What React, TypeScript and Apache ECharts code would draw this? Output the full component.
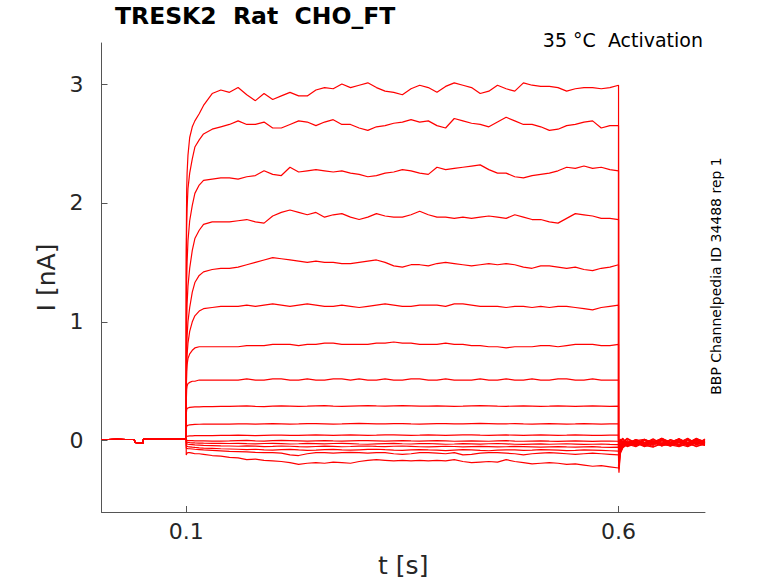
import React, { useEffect, useRef } from "react";
import * as echarts from "echarts";

// ---- holding period (shared by all sweeps) ----
const PRE_T = [0.002, 0.01, 0.02, 0.03, 0.04, 0.0405, 0.05, 0.0505, 0.06, 0.07, 0.08, 0.09, 0.1];
const PRE_I = [0.01, 0.01, 0.012, 0.01, 0.01, -0.015, -0.02, 0.012, 0.015, 0.014, 0.015, 0.016, 0.015];

// ---- test pulse time points (s) ----
const STEP_T = [
  0.1, 0.1005, 0.101, 0.102, 0.104, 0.107, 0.11, 0.115, 0.12, 0.13, 0.14,
  0.15, 0.16, 0.17, 0.18, 0.19, 0.2, 0.21, 0.22, 0.23, 0.24,
  0.25, 0.26, 0.27, 0.28, 0.29, 0.3, 0.31, 0.32, 0.33, 0.34,
  0.35, 0.36, 0.37, 0.38, 0.39, 0.4, 0.41, 0.42, 0.43, 0.44,
  0.45, 0.46, 0.47, 0.48, 0.49, 0.5, 0.51, 0.52, 0.53, 0.54,
  0.55, 0.56, 0.57, 0.58, 0.59, 0.6,
];

// ---- tail after the pulse (s) ----
const TAIL_T = [0.6, 0.6005, 0.602, 0.605, 0.61, 0.62, 0.63, 0.64, 0.65, 0.66, 0.67, 0.68, 0.69, 0.7];

// ---- sweep currents during the pulse (nA) ----
const sweep01 = [
  1.6, 2.1, 2.25, 2.4, 2.55, 2.64, 2.69, 2.75, 2.82, 2.92, 2.95,
  2.93, 2.97, 2.91, 2.86, 2.92, 2.87, 2.9, 2.93, 2.9, 2.9,
  2.95, 2.97, 2.96, 3.0, 2.97, 2.99, 3.01, 2.97, 2.94, 2.93,
  2.91, 2.96, 2.99, 2.97, 2.93, 2.98, 3.01, 2.99, 2.97, 2.92,
  2.94, 2.99, 2.96, 2.94, 3.01, 2.99, 2.98, 2.98, 2.97, 2.94,
  2.96, 2.97, 2.97, 2.96, 2.97, 2.99,
];
const sweep02 = [
  1.4, 1.8, 1.95, 2.12, 2.25, 2.37, 2.47, 2.53, 2.58, 2.62, 2.64,
  2.66, 2.69, 2.66, 2.66, 2.68, 2.63, 2.63, 2.66, 2.69, 2.68,
  2.65, 2.68, 2.7, 2.66, 2.66, 2.63, 2.61, 2.64, 2.65, 2.67,
  2.68, 2.7, 2.68, 2.69, 2.65, 2.63, 2.71, 2.69, 2.67, 2.66,
  2.64, 2.68, 2.72, 2.69, 2.66, 2.66, 2.64, 2.61, 2.62, 2.65,
  2.66, 2.68, 2.69, 2.63, 2.65, 2.65,
];
const sweep03 = [
  1.0, 1.35, 1.5, 1.68, 1.85, 1.98, 2.08, 2.15, 2.19, 2.2, 2.21,
  2.21, 2.2, 2.22, 2.23, 2.27, 2.24, 2.23, 2.3, 2.26, 2.27,
  2.28, 2.27, 2.26, 2.27, 2.25, 2.24, 2.22, 2.23, 2.25, 2.26,
  2.28, 2.27, 2.25, 2.24, 2.3, 2.28, 2.29, 2.3, 2.31, 2.32,
  2.28, 2.25, 2.25, 2.22, 2.21, 2.23, 2.24, 2.25, 2.27, 2.3,
  2.29, 2.31, 2.29, 2.3, 2.28, 2.27,
];
const sweep04 = [
  0.7, 1.0, 1.15, 1.3, 1.45, 1.6, 1.7, 1.77, 1.82, 1.84, 1.84,
  1.84, 1.85, 1.86, 1.84, 1.83, 1.89, 1.92, 1.94, 1.92, 1.9,
  1.92, 1.88, 1.9, 1.91, 1.88, 1.86, 1.88, 1.91, 1.89, 1.88,
  1.88, 1.9, 1.93, 1.9, 1.88, 1.88, 1.87, 1.88, 1.87, 1.88,
  1.89, 1.88, 1.87, 1.9, 1.88, 1.86, 1.86, 1.84, 1.83, 1.87,
  1.91, 1.9, 1.89, 1.87, 1.87, 1.86,
];
const sweep05 = [
  0.5, 0.75, 0.88, 1.0, 1.12, 1.25, 1.33, 1.39, 1.42, 1.44, 1.45,
  1.45, 1.46, 1.48, 1.5, 1.52, 1.54, 1.53, 1.52, 1.51, 1.5,
  1.51, 1.5, 1.5, 1.49, 1.49, 1.5, 1.51, 1.52, 1.5, 1.47,
  1.46, 1.48, 1.48, 1.47, 1.49, 1.5, 1.49, 1.48, 1.47, 1.48,
  1.49, 1.48, 1.49, 1.48, 1.46, 1.45, 1.47, 1.47, 1.46, 1.45,
  1.46, 1.44, 1.43, 1.45, 1.46, 1.48,
];
const sweep06 = [
  0.42, 0.62, 0.72, 0.82, 0.92, 1.0, 1.05, 1.09, 1.11, 1.12, 1.13,
  1.13, 1.13, 1.14, 1.13, 1.14, 1.15, 1.14, 1.13, 1.14, 1.15,
  1.14, 1.13, 1.13, 1.14, 1.13, 1.12, 1.13, 1.14, 1.15, 1.14,
  1.13, 1.13, 1.14, 1.14, 1.14, 1.13, 1.15, 1.15, 1.14, 1.13,
  1.13, 1.13, 1.12, 1.13, 1.13, 1.12, 1.13, 1.12, 1.13, 1.13,
  1.12, 1.11, 1.1, 1.12, 1.13, 1.14,
];
const sweep07 = [
  0.4, 0.58, 0.64, 0.69, 0.73, 0.76, 0.78, 0.79, 0.79, 0.79, 0.79,
  0.79, 0.79, 0.8, 0.8, 0.8, 0.81, 0.81, 0.81, 0.8, 0.81,
  0.81, 0.82, 0.82, 0.81, 0.81, 0.81, 0.81, 0.82, 0.82, 0.83,
  0.82, 0.82, 0.81, 0.81, 0.81, 0.82, 0.81, 0.81, 0.8, 0.8,
  0.79, 0.79, 0.78, 0.79, 0.79, 0.79, 0.8, 0.8, 0.79, 0.8,
  0.81, 0.81, 0.81, 0.8, 0.8, 0.81,
];
const sweep08 = [
  0.32, 0.43, 0.46, 0.48, 0.49, 0.5, 0.5, 0.51, 0.51, 0.51, 0.51,
  0.51, 0.51, 0.52, 0.51, 0.51, 0.52, 0.52, 0.51, 0.51, 0.52,
  0.51, 0.51, 0.52, 0.52, 0.51, 0.52, 0.51, 0.51, 0.52, 0.51,
  0.51, 0.52, 0.52, 0.51, 0.51, 0.52, 0.51, 0.51, 0.51, 0.52,
  0.51, 0.51, 0.52, 0.51, 0.51, 0.52, 0.51, 0.51, 0.52, 0.52,
  0.51, 0.51, 0.52, 0.51, 0.51, 0.51,
];
const sweep09 = [
  0.22, 0.26, 0.27, 0.275, 0.28, 0.282, 0.284, 0.285, 0.286, 0.287, 0.288,
  0.288, 0.29, 0.292, 0.289, 0.287, 0.29, 0.293, 0.291, 0.289, 0.29,
  0.292, 0.294, 0.291, 0.289, 0.291, 0.293, 0.295, 0.292, 0.29, 0.292,
  0.294, 0.292, 0.29, 0.291, 0.293, 0.291, 0.289, 0.29, 0.292, 0.294,
  0.292, 0.29, 0.289, 0.291, 0.293, 0.291, 0.289, 0.29, 0.292, 0.29,
  0.288, 0.29, 0.292, 0.291, 0.289, 0.29,
];
const sweep10 = [
  0.1, 0.12, 0.125, 0.13, 0.133, 0.135, 0.137, 0.138, 0.139, 0.14, 0.14,
  0.14, 0.142, 0.141, 0.139, 0.141, 0.143, 0.142, 0.14, 0.141, 0.143,
  0.144, 0.142, 0.14, 0.141, 0.143, 0.145, 0.143, 0.141, 0.142, 0.144,
  0.143, 0.141, 0.14, 0.142, 0.144, 0.143, 0.141, 0.142, 0.144, 0.145,
  0.143, 0.141, 0.142, 0.143, 0.141, 0.14, 0.142, 0.144, 0.142, 0.14,
  0.141, 0.143, 0.142, 0.14, 0.141, 0.142,
];
const sweep11 = [
  0.03, 0.035, 0.037, 0.039, 0.04, 0.041, 0.042, 0.042, 0.043, 0.043, 0.044,
  0.044, 0.046, 0.045, 0.043, 0.045, 0.047, 0.046, 0.044, 0.045, 0.047,
  0.048, 0.046, 0.044, 0.046, 0.048, 0.047, 0.045, 0.046, 0.048, 0.049,
  0.047, 0.045, 0.046, 0.048, 0.047, 0.045, 0.047, 0.049, 0.048, 0.046,
  0.045, 0.047, 0.048, 0.046, 0.044, 0.046, 0.048, 0.047, 0.045, 0.046,
  0.048, 0.047, 0.045, 0.044, 0.046, 0.047,
];
const sweep12 = [
  0.005, 0.003, 0.002, 0.001, 0.0, 0.0, -0.001, -0.002, -0.002, -0.003, -0.003,
  -0.002, 0.0, 0.002, -0.001, -0.003, 0.0, 0.002, 0.0, -0.002, -0.004,
  -0.001, 0.001, -0.002, -0.004, -0.002, 0.0, 0.001, -0.001, -0.003, -0.001,
  0.001, -0.002, -0.004, -0.002, 0.0, -0.002, -0.005, -0.003, -0.001, -0.003,
  -0.005, -0.002, 0.0, -0.003, -0.005, -0.003, -0.001, -0.004, -0.006, -0.003,
  -0.002, -0.004, -0.006, -0.004, -0.003, -0.005,
];
const sweep13 = [
  -0.005, -0.01, -0.012, -0.014, -0.016, -0.018, -0.019, -0.02, -0.021, -0.022, -0.023,
  -0.024, -0.022, -0.025, -0.027, -0.024, -0.022, -0.025, -0.028, -0.026, -0.023,
  -0.025, -0.027, -0.024, -0.022, -0.025, -0.028, -0.03, -0.027, -0.025, -0.023,
  -0.026, -0.028, -0.025, -0.024, -0.027, -0.03, -0.028, -0.025, -0.027, -0.029,
  -0.026, -0.024, -0.027, -0.03, -0.032, -0.029, -0.027, -0.03, -0.028, -0.026,
  -0.029, -0.032, -0.03, -0.028, -0.031, -0.033,
];
const sweep14 = [
  -0.02, -0.025, -0.028, -0.03, -0.032, -0.034, -0.036, -0.038, -0.04, -0.042, -0.044,
  -0.045, -0.047, -0.044, -0.046, -0.05, -0.048, -0.045, -0.047, -0.05, -0.052,
  -0.049, -0.046, -0.048, -0.051, -0.049, -0.046, -0.045, -0.048, -0.05, -0.047,
  -0.045, -0.048, -0.051, -0.053, -0.05, -0.047, -0.049, -0.052, -0.05, -0.048,
  -0.05, -0.053, -0.051, -0.048, -0.05, -0.052, -0.055, -0.052, -0.05, -0.053,
  -0.055, -0.052, -0.05, -0.054, -0.057, -0.055,
];
const sweep15 = [
  -0.04, -0.045, -0.048, -0.05, -0.052, -0.055, -0.057, -0.06, -0.062, -0.065, -0.068,
  -0.07, -0.072, -0.075, -0.072, -0.078, -0.08, -0.075, -0.073, -0.078, -0.082,
  -0.08, -0.076, -0.074, -0.078, -0.08, -0.077, -0.074, -0.072, -0.076, -0.079,
  -0.081, -0.078, -0.075, -0.078, -0.08, -0.083, -0.079, -0.076, -0.078, -0.082,
  -0.085, -0.08, -0.077, -0.078, -0.081, -0.079, -0.076, -0.078, -0.08, -0.083,
  -0.081, -0.078, -0.08, -0.082, -0.085, -0.088,
];
const sweep16 = [
  -0.06, -0.065, -0.065, -0.067, -0.068, -0.07, -0.072, -0.075, -0.078, -0.082, -0.086,
  -0.09, -0.092, -0.095, -0.098, -0.1, -0.1, -0.105, -0.12, -0.125, -0.11,
  -0.1, -0.1, -0.105, -0.1, -0.098, -0.1, -0.105, -0.1, -0.1, -0.11,
  -0.115, -0.11, -0.1, -0.1, -0.105, -0.11, -0.1, -0.12, -0.115, -0.105,
  -0.1, -0.1, -0.105, -0.11, -0.12, -0.11, -0.105, -0.1, -0.105, -0.11,
  -0.115, -0.11, -0.105, -0.11, -0.115, -0.12,
];
const sweep17 = [
  -0.12, -0.11, -0.105, -0.1, -0.1, -0.105, -0.11, -0.11, -0.115, -0.125, -0.13,
  -0.14, -0.145, -0.16, -0.155, -0.165, -0.17, -0.175, -0.185, -0.2, -0.19,
  -0.185, -0.19, -0.18, -0.185, -0.19, -0.175, -0.165, -0.16, -0.165, -0.17,
  -0.165, -0.17, -0.165, -0.17, -0.165, -0.17, -0.16, -0.175, -0.185, -0.18,
  -0.175, -0.18, -0.16, -0.175, -0.185, -0.195, -0.19, -0.185, -0.19, -0.2,
  -0.195, -0.205, -0.215, -0.21, -0.22, -0.23,
];

// ---- tail currents after the pulse (nA) ----
const tail01 = [0.03, -0.02, 0.012, -0.012, 0.02, -0.02, 0.012, -0.018, 0.02, -0.012, 0.016, -0.02, 0.012, -0.005];
const tail02 = [0.02, -0.03, 0.005, -0.02, 0.015, -0.025, 0.008, -0.01, 0.018, -0.022, 0.01, -0.015, 0.018, -0.01];
const tail03 = [0.01, -0.035, 0.0, 0.02, -0.03, 0.01, -0.02, 0.015, -0.028, 0.008, -0.02, 0.015, -0.025, 0.005];
const tail04 = [0.0, -0.04, -0.005, 0.015, -0.035, 0.0, 0.012, -0.03, 0.005, -0.025, 0.012, -0.03, 0.0, -0.02];
const tail05 = [-0.01, -0.045, -0.02, 0.01, -0.01, -0.035, 0.005, -0.02, -0.04, 0.0, -0.03, 0.008, -0.035, -0.01];
const tail06 = [-0.02, -0.05, -0.03, -0.005, -0.04, -0.01, -0.045, -0.005, -0.03, -0.045, -0.01, -0.04, -0.015, -0.03];
const tail07 = [-0.03, -0.055, -0.035, -0.015, -0.045, -0.02, -0.05, -0.025, -0.01, -0.045, -0.03, -0.05, -0.02, -0.04];
const tail08 = [-0.04, -0.06, -0.04, -0.02, -0.05, -0.025, -0.04, -0.055, -0.02, -0.035, -0.05, -0.025, -0.045, -0.03];
const tail09 = [-0.05, -0.07, -0.045, -0.03, -0.01, -0.04, -0.02, -0.05, -0.03, -0.015, -0.045, -0.02, -0.05, -0.025];
const tail10 = [-0.06, -0.08, -0.05, -0.02, -0.04, -0.005, -0.03, -0.01, -0.045, -0.025, 0.0, -0.035, -0.015, -0.04];
const tail11 = [-0.07, -0.1, -0.055, -0.03, 0.0, -0.03, 0.01, -0.025, 0.005, -0.02, 0.015, -0.02, 0.005, -0.015];
const tail12 = [-0.08, -0.12, -0.06, -0.035, -0.02, 0.01, -0.02, 0.0, -0.035, 0.01, -0.015, 0.02, -0.025, 0.01];
const tail13 = [-0.1, -0.15, -0.07, -0.04, -0.015, -0.04, 0.0, -0.03, 0.015, -0.02, -0.04, 0.0, -0.03, 0.015];
const tail14 = [-0.12, -0.18, -0.08, -0.045, -0.03, 0.0, -0.035, 0.01, -0.025, -0.045, 0.0, -0.03, 0.02, -0.02];
const tail15 = [-0.14, -0.21, -0.09, -0.05, -0.02, -0.045, 0.005, -0.03, 0.02, -0.02, -0.04, 0.01, -0.035, 0.0];
const tail16 = [-0.16, -0.24, -0.1, -0.055, -0.035, -0.01, -0.04, 0.0, -0.045, -0.015, 0.015, -0.035, 0.005, -0.025];
const tail17 = [-0.2, -0.27, -0.11, -0.06, -0.03, -0.05, -0.015, -0.04, 0.0, -0.035, -0.01, -0.045, -0.005, -0.03];

const SWEEPS = [sweep01, sweep02, sweep03, sweep04, sweep05, sweep06, sweep07, sweep08, sweep09, sweep10, sweep11, sweep12, sweep13, sweep14, sweep15, sweep16, sweep17];
const TAILS = [tail01, tail02, tail03, tail04, tail05, tail06, tail07, tail08, tail09, tail10, tail11, tail12, tail13, tail14, tail15, tail16, tail17];

const X_TICKS = [0.1, 0.6];
const Y_TICKS = [0, 1, 2, 3];

const TITLE = "TRESK2  Rat  CHO_FT";
const SUBTITLE = "35 °C  Activation";
const SIDE_NOTE = "BBP Channelpedia ID 34488 rep 1";

const FONT = "DejaVu Sans";
const AXIS_COLOR = "#555555";
const TEXT_COLOR = "#262626";

export default function App() {
  const ref = useRef<HTMLDivElement>(null);

  useEffect(() => {
    if (!ref.current) return;
    const chart = echarts.init(ref.current, undefined, { renderer: "svg" });

    const series = SWEEPS.map((sw, k) => {
      const data: number[][] = [];
      PRE_T.forEach((t, i) => data.push([t, PRE_I[i]]));
      STEP_T.forEach((t, i) => data.push([t, sw[i]]));
      TAIL_T.forEach((t, i) => data.push([t, TAILS[k][i]]));
      return {
        type: "line",
        data,
        showSymbol: false,
        symbol: "none",
        silent: true,
        lineStyle: { color: "#ff0000", width: 1.2 },
        z: 2,
      };
    });

    chart.setOption({
      animation: false,
      backgroundColor: "#ffffff",
      grid: { left: 101.5, right: 73, top: 43, bottom: 70.5, containLabel: false },
      xAxis: {
        type: "value",
        min: 0.002,
        max: 0.7,
        name: "t [s]",
        nameLocation: "middle",
        nameGap: 41,
        nameTextStyle: { fontFamily: FONT, fontSize: 25, color: TEXT_COLOR },
        axisLine: { show: true, onZero: false, lineStyle: { color: AXIS_COLOR, width: 1 } },
        axisTick: { show: true, inside: true, length: 6, customValues: X_TICKS, lineStyle: { color: AXIS_COLOR } },
        axisLabel: { show: true, customValues: X_TICKS, fontFamily: FONT, fontSize: 22, color: TEXT_COLOR, margin: 8 },
        splitLine: { show: false },
      },
      yAxis: {
        type: "value",
        min: -0.6,
        max: 3.345,
        name: "I [nA]",
        nameLocation: "middle",
        nameRotate: 90,
        nameGap: 40,
        nameTextStyle: { fontFamily: FONT, fontSize: 25, color: TEXT_COLOR },
        axisLine: { show: true, onZero: false, lineStyle: { color: AXIS_COLOR, width: 1 } },
        axisTick: { show: true, inside: true, length: 6, customValues: Y_TICKS, lineStyle: { color: AXIS_COLOR } },
        axisLabel: { show: true, customValues: Y_TICKS, fontFamily: FONT, fontSize: 22, color: TEXT_COLOR, margin: 18 },
        splitLine: { show: false },
      },
      graphic: [
        {
          type: "text",
          left: 115,
          top: 4,
          style: { text: TITLE, font: `bold 23.5px "${FONT}"`, fill: "#000000" },
        },
        {
          type: "text",
          right: 75,
          top: 30,
          style: { text: SUBTITLE, font: `19px "${FONT}"`, fill: "#000000" },
        },
        {
          type: "text",
          x: 716,
          y: 276,
          rotation: Math.PI / 2,
          style: {
            text: SIDE_NOTE,
            font: `14px "${FONT}"`,
            fill: "#000000",
            align: "center",
            verticalAlign: "middle",
          },
        },
      ],
      series,
    });

    return () => chart.dispose();
  }, []);

  return (
    <div
      ref={ref}
      style={{ position: "fixed", left: 0, top: 0, width: 778, height: 583, background: "#fff" }}
    />
  );
}
